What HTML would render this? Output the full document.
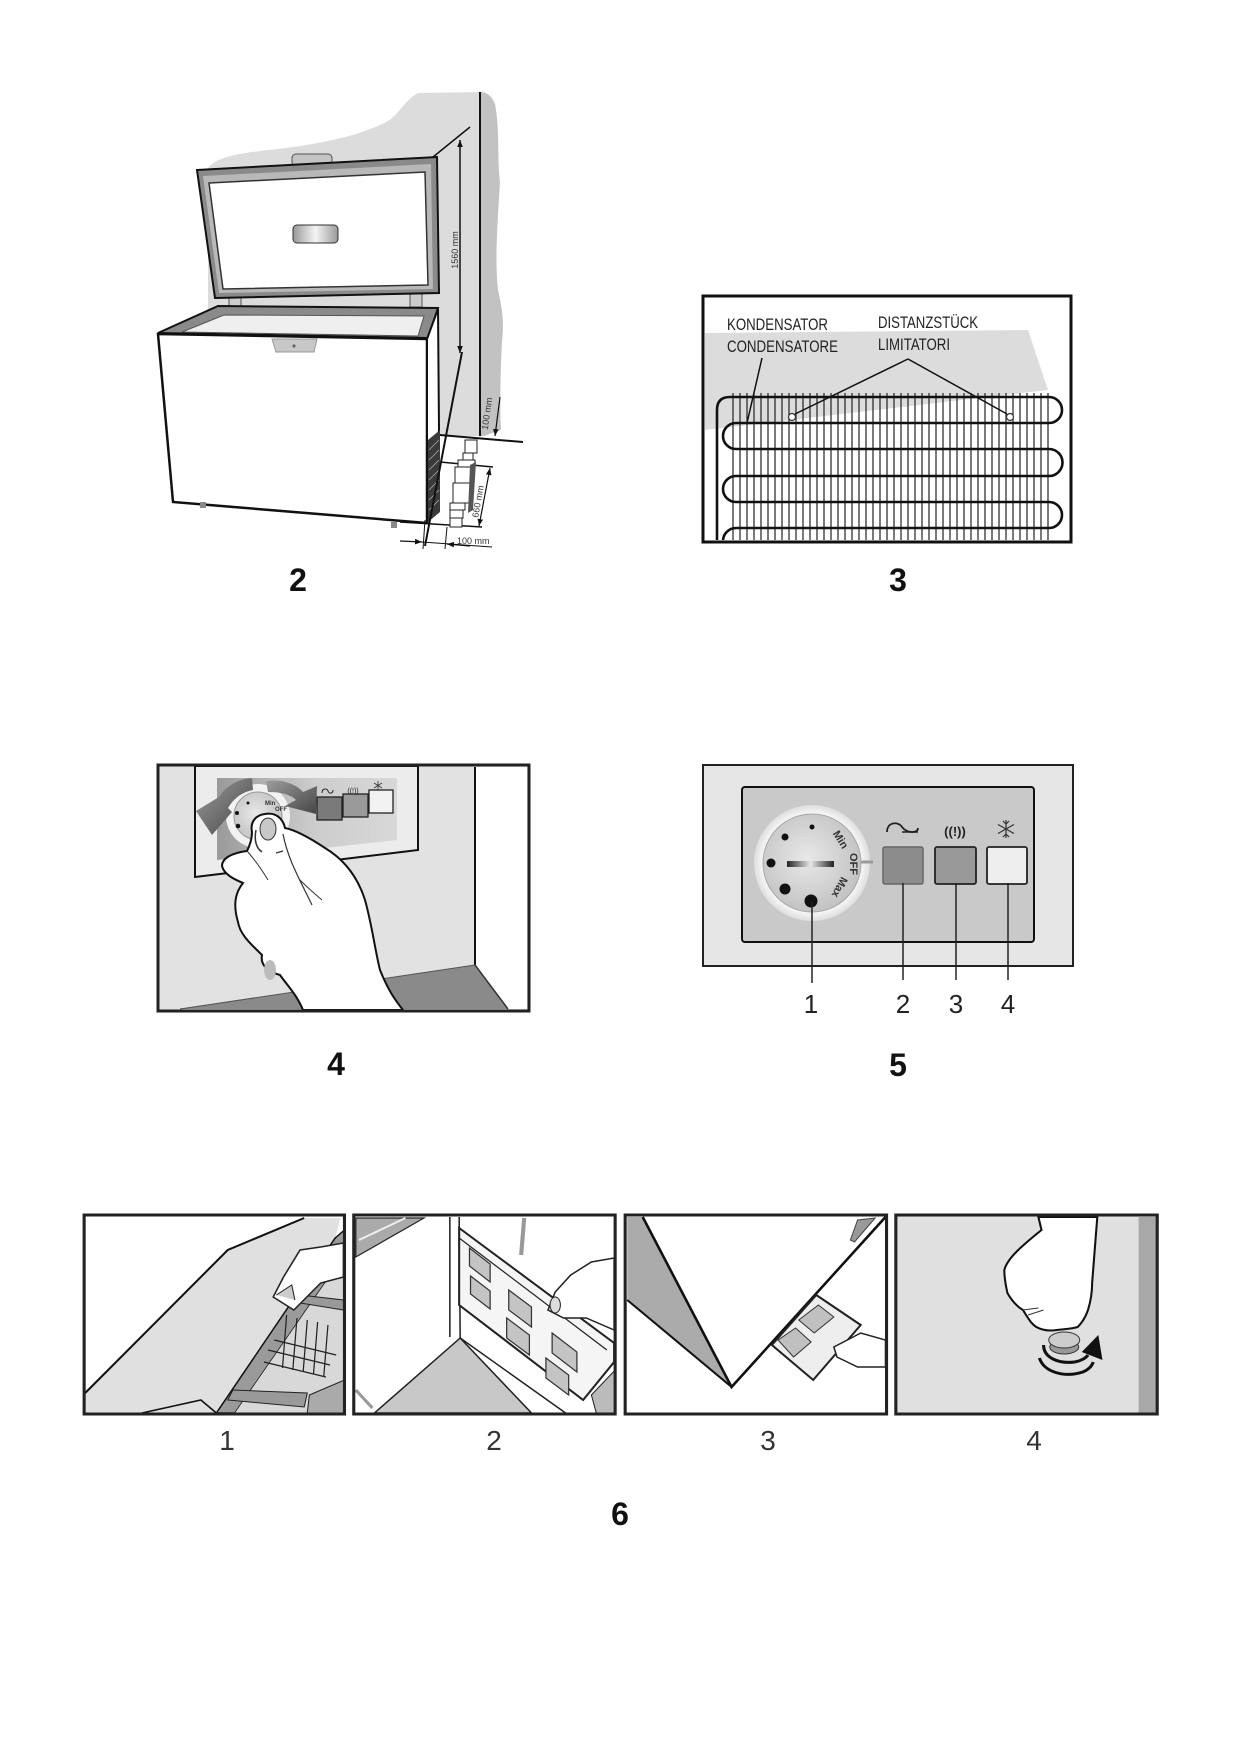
<!DOCTYPE html>
<html><head><meta charset="utf-8">
<style>
html,body{margin:0;padding:0;background:#fff;}
svg{display:block;}
text{font-family:"Liberation Sans",Arial,sans-serif;}
</style></head><body>
<svg width="1240" height="1754" viewBox="0 0 1240 1754" xmlns="http://www.w3.org/2000/svg">
<defs>
 <marker id="ah" viewBox="0 0 10 10" refX="10" refY="5" markerWidth="7" markerHeight="7" orient="auto-start-reverse" markerUnits="userSpaceOnUse"><path d="M0,1 L10,5 L0,9 Z" fill="#111"/></marker>
 <linearGradient id="hgrad" x1="0" x2="1"><stop offset="0" stop-color="#999"/><stop offset="0.5" stop-color="#f4f4f4"/><stop offset="1" stop-color="#999"/></linearGradient>
 <linearGradient id="plate" x1="0" y1="0" x2="1" y2="0"><stop offset="0" stop-color="#9a9a9a"/><stop offset="0.55" stop-color="#cdcdcd"/><stop offset="1" stop-color="#d8d8d8"/></linearGradient>
 <linearGradient id="bar" x1="0" x2="1"><stop offset="0" stop-color="#222"/><stop offset="0.5" stop-color="#e8e8e8"/><stop offset="1" stop-color="#222"/></linearGradient>
 <radialGradient id="disc" cx="0.45" cy="0.45" r="0.65"><stop offset="0" stop-color="#e8e8e8"/><stop offset="1" stop-color="#bdbdbd"/></radialGradient>
 <radialGradient id="ringg" cx="0.5" cy="0.5" r="0.5"><stop offset="0.8" stop-color="#ffffff"/><stop offset="1" stop-color="#dedede"/></radialGradient>
 <linearGradient id="agrad" x1="0" y1="0" x2="1" y2="1"><stop offset="0" stop-color="#9c9c9c"/><stop offset="1" stop-color="#454545"/></linearGradient>
 <clipPath id="c3"><rect x="705" y="298" width="364" height="242"/></clipPath>
</defs>

<!-- ================= FIG 2 ================= -->
<g>
 <path d="M208,330 L208,168 C220,152 262,152 300,146 C340,140 370,131 388,121 C400,113 405,100 418,93 L480,92 L480,436 L437,436 L437,330 Z" fill="#dcdcdc"/>
 <path d="M480,92 C488,92 492,97 495,104 C500,130 497,160 500,182 C497,230 495,262 498,290 C503,312 504,322 502,342 C500,380 500,410 501,430 L484,436 L480,436 Z" fill="#c2c2c2"/>
 <line x1="480" y1="92" x2="480" y2="436" stroke="#111" stroke-width="2"/>
 <rect x="229" y="293" width="12" height="15" fill="#ccc" stroke="#555"/>
 <rect x="410" y="292" width="12" height="15" fill="#ccc" stroke="#555"/>
 <rect x="292" y="154" width="40" height="12" rx="4" fill="#c4c4c4" stroke="#555"/>
 <polygon points="197,170 437,157 439,293 215,298" fill="#8a8a8a" stroke="#111" stroke-width="2"/>
 <polygon points="203,176 431,164 433,289 219,293" fill="#b8b8b8"/>
 <polygon points="209,183 425,172 428,285 223,289" fill="#fff" stroke="#333" stroke-width="1.5"/>
 <rect x="293" y="225" width="45" height="18" rx="4" fill="url(#hgrad)" stroke="#333"/>
 <polygon points="158,333 218,306 438,308 428,338" fill="#8a8a8a" stroke="#111" stroke-width="2"/>
 <polygon points="182,332 224,315 424,316 418,336" fill="#efefef" stroke="#555" stroke-width="1"/>
 <polygon points="158,334 427,339 427,523 173,502" fill="#fff" stroke="#111" stroke-width="2.5"/>
 <polygon points="427,339 438,309 439,430 427,523" fill="#fff" stroke="#111" stroke-width="2"/>
 <polygon points="428,440 440,430 440,512 428,522" fill="#3a3a3a"/>
 <g stroke="#aaa" stroke-width="0.8">
  <line x1="429" y1="450" x2="439" y2="440"/><line x1="429" y1="460" x2="439" y2="450"/><line x1="429" y1="470" x2="439" y2="460"/><line x1="429" y1="480" x2="439" y2="470"/><line x1="429" y1="490" x2="439" y2="480"/><line x1="429" y1="500" x2="439" y2="490"/><line x1="429" y1="510" x2="439" y2="500"/>
 </g>
 <polygon points="272,339 317,339 314,352 276,352" fill="#c8c8c8" stroke="#999"/>
 <circle cx="294" cy="346" r="1.6" fill="#666"/>
 <rect x="200" y="502" width="6" height="6" fill="#888"/>
 <rect x="391" y="522" width="6" height="6" fill="#888"/>
 <line x1="460" y1="140" x2="460" y2="353" stroke="#111" stroke-width="1.5" marker-start="url(#ah)" marker-end="url(#ah)"/>
 <text transform="translate(458,250) rotate(-90)" font-size="9" text-anchor="middle" fill="#333">1560 mm</text>
 <line x1="433" y1="157" x2="470" y2="127" stroke="#111" stroke-width="1.5"/>
 <line x1="462" y1="352" x2="425" y2="546" stroke="#111" stroke-width="2"/>
 <line x1="440" y1="435" x2="523" y2="442" stroke="#111" stroke-width="2"/>
 <line x1="440" y1="462" x2="493" y2="467" stroke="#111" stroke-width="1.5"/>
 <line x1="400" y1="522" x2="482" y2="527" stroke="#111" stroke-width="1.5"/>
 <line x1="500" y1="397" x2="495" y2="436" stroke="#111" stroke-width="1.2" marker-end="url(#ah)"/>
 <text transform="translate(490,414) rotate(-82)" font-size="9" text-anchor="middle" fill="#333">100 mm</text>
 <line x1="490" y1="468" x2="479" y2="526" stroke="#111" stroke-width="1.2" marker-start="url(#ah)" marker-end="url(#ah)"/>
 <text transform="translate(481,502) rotate(-80)" font-size="9" text-anchor="middle" fill="#333">660 mm</text>
 <g fill="#fff" stroke="#222" stroke-width="1">
  <rect x="465" y="440" width="12" height="13"/>
  <rect x="463" y="453" width="10" height="7"/>
  <rect x="458" y="460" width="17" height="7"/>
  <rect x="455" y="467" width="17" height="16"/>
  <rect x="453" y="483" width="17" height="20"/>
  <rect x="450" y="503" width="15" height="7"/>
  <rect x="450" y="510" width="13" height="8"/>
  <rect x="450" y="518" width="12" height="9"/>
 </g>
 <polygon points="470,465 476,462 473,510 468,513" fill="#555"/>
 <line x1="425" y1="520" x2="423" y2="549" stroke="#111" stroke-width="1"/>
 <line x1="447" y1="527" x2="445" y2="549" stroke="#111" stroke-width="1"/>
 <line x1="400" y1="541" x2="422" y2="542" stroke="#111" stroke-width="1.2" marker-end="url(#ah)"/>
 <line x1="470" y1="546" x2="447" y2="544" stroke="#111" stroke-width="1.2" marker-end="url(#ah)"/>
 <line x1="422" y1="542" x2="492" y2="547" stroke="#111" stroke-width="1"/>
 <text x="457" y="544" font-size="9" fill="#333">100 mm</text>
</g>
<text x="298" y="591" font-size="32" font-weight="bold" text-anchor="middle" fill="#111">2</text>

<!-- ================= FIG 3 ================= -->
<g>
 <rect x="703" y="296" width="368" height="246" fill="#fff"/>
 <g clip-path="url(#c3)">
  <polygon points="705,333 1028,330 1048,390 705,430" fill="#dcdcdc"/>
  <path d="M733,393V545M740,393V545M747,393V545M754,393V545M761,393V545M768,393V545M775,393V545M782,393V545M789,393V545M796,393V545M803,393V545M810,393V545M817,393V545M824,393V545M831,393V545M838,393V545M845,393V545M852,393V545M859,393V545M866,393V545M873,393V545M880,393V545M887,393V545M894,393V545M901,393V545M908,393V545M915,393V545M922,393V545M929,393V545M936,393V545M943,393V545M950,393V545M957,393V545M964,393V545M971,393V545M978,393V545M985,393V545M992,393V545M999,393V545M1006,393V545M1013,393V545M1020,393V545M1027,393V545M1034,393V545M1041,393V545M1048,393V545" stroke="#222" stroke-width="1.2" fill="none"/>
  <path d="M717,548 L717,410 Q717,397 730,397 L1049,397 A13,13 0 0 1 1049,423 L736,423 A13,13 0 0 0 736,449 L1049,449 A13.5,13.5 0 0 1 1049,476 L736,476 A13,13 0 0 0 736,502 L1049,502 A13,13 0 0 1 1049,528 L736,528 A13,13 0 0 0 736,554" stroke="#111" stroke-width="2.6" fill="none"/>
 </g>
 <line x1="908" y1="359" x2="795" y2="414" stroke="#111" stroke-width="1.5"/>
 <line x1="908" y1="359" x2="1007" y2="414" stroke="#111" stroke-width="1.5"/>
 <line x1="762" y1="358" x2="747" y2="423" stroke="#111" stroke-width="1.5"/>
 <circle cx="792" cy="417" r="3.5" fill="#fff" stroke="#333" stroke-width="1.2"/>
 <circle cx="1010" cy="417" r="3.5" fill="#fff" stroke="#333" stroke-width="1.2"/>
 <text x="727" y="330" font-size="17" fill="#222" textLength="101" lengthAdjust="spacingAndGlyphs">KONDENSATOR</text>
 <text x="727" y="352" font-size="17" fill="#222" textLength="111" lengthAdjust="spacingAndGlyphs">CONDENSATORE</text>
 <text x="878" y="328" font-size="17" fill="#222" textLength="100" lengthAdjust="spacingAndGlyphs">DISTANZSTÜCK</text>
 <text x="878" y="350" font-size="17" fill="#222" textLength="72" lengthAdjust="spacingAndGlyphs">LIMITATORI</text>
 <rect x="703" y="296" width="368" height="246" fill="none" stroke="#111" stroke-width="3"/>
</g>
<text x="898" y="591" font-size="32" font-weight="bold" text-anchor="middle" fill="#111">3</text>

<!-- ================= FIG 4 ================= -->
<g>
 <rect x="158" y="765" width="371" height="246" fill="#e2e2e2"/>
 <polygon points="475,767 527,767 527,1009 508,1009 475,965" fill="#fff"/>
 <line x1="475" y1="767" x2="475" y2="965" stroke="#111" stroke-width="2"/>
 <polygon points="180,1009 475,965 508,1009" fill="#8a8a8a"/>
 <line x1="180" y1="1009" x2="475" y2="965" stroke="#555" stroke-width="1"/>
 <line x1="475" y1="965" x2="508" y2="1009" stroke="#333" stroke-width="1.5"/>
 <polygon points="195,766 418,766 418,850 195,877" fill="#ececec" stroke="#111" stroke-width="2"/>
 <polygon points="217,778 397,778 397,840 217,860" fill="url(#plate)"/>
 <circle cx="258" cy="816" r="32" fill="#f2f2f2"/>
 <circle cx="258" cy="816" r="24" fill="url(#disc)" stroke="#999"/>
 <circle cx="248" cy="803" r="1.5" fill="#111"/>
 <circle cx="237" cy="813" r="2" fill="#111"/>
 <circle cx="238" cy="826" r="2.3" fill="#111"/>
 <text x="265" y="805" font-size="6" font-weight="bold" fill="#333">Min</text>
 <text x="275" y="811" font-size="6" font-weight="bold" fill="#333">OFF</text>
 <rect x="317" y="797" width="25" height="23" fill="#7a7a7a" stroke="#222" stroke-width="1.3"/>
 <rect x="343" y="794" width="25" height="23" fill="#9a9a9a" stroke="#222" stroke-width="1.3"/>
 <rect x="369" y="790" width="24" height="23" fill="#f2f2f2" stroke="#222" stroke-width="1.3"/>
 <path d="M322,793 C322,788 327,788 328,791 C329,794 333,794 333,790" stroke="#222" stroke-width="1" fill="none"/>
 <text x="353" y="793" font-size="7" text-anchor="middle" fill="#222">((!))</text>
 <g stroke="#333" stroke-width="0.8"><line x1="378" y1="781" x2="378" y2="790"/><line x1="374" y1="783" x2="382" y2="788"/><line x1="382" y1="783" x2="374" y2="788"/></g>
 <path d="M252,778 C238,779 226,786 219,797 L196,811 L212,835 L232,812 L228,808 C234,798 242,792 253,790 Z" fill="url(#agrad)"/>
 <path d="M266,781 C282,779 296,784 303,792 L317,786 L316,814 L285,806 L296,800 C290,794 280,792 268,792 Z" fill="url(#agrad)"/>
 <path d="M303,1010 C297,995 287,985 280,975 C268,972 260,965 262,955 C252,945 240,935 238,922 C233,905 235,893 243,883 C236,880 224,875 222,866 C222,858 232,853 247,851 C250,845 252,838 252,832 C250,823 255,815 265,814 C275,812 283,818 285,828 C295,830 310,838 325,848 C345,860 358,878 365,900 C372,925 375,950 380,970 C388,990 395,1000 403,1010 Z" fill="#fff" stroke="#111" stroke-width="2"/>
 <ellipse cx="268" cy="829" rx="8" ry="11" fill="#c8c8c8" stroke="#333" stroke-width="1"/>
 <path d="M256,830 C254,840 256,848 262,852" stroke="#333" stroke-width="1.5" fill="none"/>
 <path d="M283,834 C288,860 300,880 312,905" stroke="#333" stroke-width="1.2" fill="none"/>
 <path d="M300,880 C305,885 310,890 322,900" stroke="#333" stroke-width="1" fill="none"/>
 <path d="M276,853 L283,851" stroke="#333" stroke-width="1.2"/>
 <ellipse cx="270" cy="970" rx="6" ry="10" fill="#bbb"/>
 <path d="M247,851 C255,860 262,870 268,880" stroke="#333" stroke-width="1" fill="none"/>
 <rect x="158" y="765" width="371" height="246" fill="none" stroke="#222" stroke-width="3"/>
</g>
<text x="336" y="1075" font-size="32" font-weight="bold" text-anchor="middle" fill="#111">4</text>

<!-- ================= FIG 5 ================= -->
<g>
 <rect x="703" y="765" width="370" height="201" fill="#e6e6e6" stroke="#222" stroke-width="2"/>
 <rect x="742" y="787" width="292" height="155" rx="3" fill="#c9c9c9" stroke="#111" stroke-width="2"/>
 <circle cx="812" cy="863" r="58" fill="url(#ringg)"/>
 <circle cx="812" cy="863" r="49" fill="url(#disc)" stroke="#a8a8a8"/>
 <line x1="861" y1="862" x2="873" y2="862" stroke="#999" stroke-width="3"/>
 <circle cx="812" cy="827" r="2.5" fill="#111"/>
 <circle cx="785" cy="837" r="3.5" fill="#111"/>
 <circle cx="771" cy="863" r="4.5" fill="#111"/>
 <circle cx="785" cy="889" r="5.5" fill="#111"/>
 <circle cx="811" cy="901" r="6.5" fill="#111"/>
 <rect x="787" y="861" width="47" height="6" fill="url(#bar)"/>
 <text transform="translate(840,840) rotate(58)" text-anchor="middle" dominant-baseline="middle" font-size="11" font-weight="bold" fill="#333">Min</text>
 <text transform="translate(853,864) rotate(90)" text-anchor="middle" dominant-baseline="middle" font-size="11" font-weight="bold" fill="#333">OFF</text>
 <text transform="translate(839,887) rotate(118)" text-anchor="middle" dominant-baseline="middle" font-size="11" font-weight="bold" fill="#333">Max</text>
 <rect x="883" y="847" width="40" height="37" rx="2" fill="#8c8c8c" stroke="#666" stroke-width="1.5"/>
 <rect x="935" y="847" width="41" height="37" rx="2" fill="#999" stroke="#222" stroke-width="1.8"/>
 <rect x="987" y="847" width="40" height="37" rx="2" fill="#eeeeee" stroke="#222" stroke-width="1.8"/>
 <path d="M887,832 C887,822 898,821 902,827 C906,833 918,834 918,828" stroke="#222" stroke-width="1.8" fill="none"/>
 <line x1="902" y1="832" x2="918" y2="832" stroke="#222" stroke-width="1.5"/>
 <text x="955" y="836" font-size="13" font-weight="bold" text-anchor="middle" fill="#222">((!))</text>
 <g stroke="#333" stroke-width="1.2">
  <line x1="1006" y1="820" x2="1006" y2="838"/>
  <line x1="998" y1="824.5" x2="1014" y2="833.5"/>
  <line x1="1014" y1="824.5" x2="998" y2="833.5"/>
  <path d="M1003,821 L1006,824 L1009,821 M1003,837 L1006,834 L1009,837" fill="none"/>
 </g>
 <g stroke="#222" stroke-width="1.5">
  <line x1="812" y1="902" x2="812" y2="983"/>
  <line x1="903" y1="883" x2="903" y2="980"/>
  <line x1="956" y1="883" x2="956" y2="980"/>
  <line x1="1008" y1="883" x2="1008" y2="980"/>
 </g>
 <g font-size="26" fill="#222" text-anchor="middle">
  <text x="811" y="1013">1</text><text x="903" y="1013">2</text><text x="956" y="1013">3</text><text x="1008" y="1013">4</text>
 </g>
</g>
<text x="898" y="1076" font-size="32" font-weight="bold" text-anchor="middle" fill="#111">5</text>

<!-- ================= FIG 6 ================= -->
<g transform="matrix(1.0331,0,0,1,-2.648,0)">
<!-- panel 1 -->
<g>
 <rect x="84" y="1215" width="252" height="199" fill="#fff"/>
 <polygon points="85,1393 223,1250 297,1218 332,1218 327,1238 212,1413 85,1413" fill="#e0e0e0"/>
 <polyline points="85,1393 223,1250 297,1218" fill="none" stroke="#111" stroke-width="2"/>
 <polyline points="140,1413 197,1400 212,1413" fill="none" stroke="#111" stroke-width="1.5"/>
 <polygon points="327,1238 336,1230 336,1255 230,1413 212,1413" fill="#9a9a9a" stroke="#111" stroke-width="1.5"/>
 <polygon points="336,1255 336,1413 230,1413" fill="#d8d8d8"/>
 <polygon points="293,1295 335,1300 335,1310 293,1303" fill="#999" stroke="#222"/>
 <polygon points="228,1390 300,1393 297,1407 223,1400" fill="#999" stroke="#222"/>
 <polygon points="302,1395 336,1380 336,1413 300,1413" fill="#aaa" stroke="#222"/>
 <g stroke="#222" stroke-width="1.2" fill="none">
  <path d="M268,1340 L328,1355 M262,1350 L322,1365 M258,1362 L318,1377"/>
  <path d="M280,1315 L276,1368 M290,1318 L286,1370 M300,1320 L296,1372 M310,1322 L306,1374 M320,1325 L316,1376"/>
 </g>
 <path d="M267,1297 L277,1277 L293,1250 L313,1247 L335,1243 L335,1277 L313,1283 L287,1310 Z" fill="#fff" stroke="#222" stroke-width="1.5"/>
 <path d="M270,1295 L285,1285 L288,1300" fill="#ccc" stroke="#222"/>
 <rect x="84" y="1215" width="252" height="199" fill="none" stroke="#222" stroke-width="3"/>
</g>
<!-- panel 2 -->
<g>
 <rect x="345" y="1215" width="253" height="199" fill="#fff"/>
 <polygon points="347,1218 413,1218 347,1257" fill="#aaa" stroke="#222" stroke-width="1.2"/>
 <line x1="350" y1="1240" x2="395" y2="1218" stroke="#eee" stroke-width="2"/>
 <polygon points="365,1413 448,1338 517,1413" fill="#c8c8c8" stroke="#222" stroke-width="1.5"/>
 <line x1="438" y1="1217" x2="438" y2="1337" stroke="#222" stroke-width="1.5"/>
 <line x1="447" y1="1217" x2="448" y2="1338" stroke="#222" stroke-width="1.5"/>
 <line x1="448" y1="1338" x2="550" y2="1413" stroke="#222" stroke-width="1.5"/>
 <line x1="510" y1="1218" x2="507" y2="1255" stroke="#999" stroke-width="4"/>
 <line x1="347" y1="1390" x2="363" y2="1408" stroke="#999" stroke-width="3"/>
 <polygon points="447,1228 597,1343 597,1362 567,1400 447,1305" fill="#f5f5f5" stroke="#222" stroke-width="2"/>
 <line x1="447" y1="1238" x2="590" y2="1350" stroke="#222" stroke-width="1.2"/>
 <g fill="#c4c4c4" stroke="#333" stroke-width="1.2">
  <polygon points="457,1248 477,1264 477,1282 457,1266"/>
  <polygon points="458,1276 477,1291 477,1309 458,1294"/>
  <polygon points="495,1290 517,1307 517,1327 495,1310"/>
  <polygon points="493,1318 515,1335 515,1355 493,1338"/>
  <polygon points="537,1333 561,1352 561,1372 537,1353"/>
  <polygon points="531,1358 553,1375 553,1395 531,1378"/>
 </g>
 <polygon points="575,1395 598,1370 598,1414 580,1414" fill="#bbb" stroke="#222"/>
 <path d="M533,1310 L540,1292 L555,1275 L575,1262 L597,1258 L597,1330 L570,1318 L548,1318 Z" fill="#fff" stroke="#222" stroke-width="1.5"/>
 <ellipse cx="540" cy="1305" rx="5" ry="8" fill="#ddd" stroke="#222"/>
 <rect x="345" y="1215" width="253" height="199" fill="none" stroke="#222" stroke-width="3"/>
</g>
</g>
<g transform="matrix(1.0331,0,0,1,-20.52,0)">
<!-- panel 3 -->
<g>
 <rect x="625" y="1215" width="253" height="199" fill="#fff"/>
 <polygon points="627,1217 642,1217 728,1387 627,1300" fill="#ababab"/>
 <polyline points="642,1217 728,1387 877,1217" fill="none" stroke="#111" stroke-width="2.5"/>
 <line x1="627" y1="1300" x2="728" y2="1387" stroke="#111" stroke-width="2"/>
 <polygon points="843,1240 850,1220 867,1218 847,1242" fill="#999" stroke="#444"/>
 <polygon points="767,1345 810,1295 853,1325 807,1380" fill="#eee" stroke="#222" stroke-width="2"/>
 <polygon points="793,1320 812,1305 827,1317 808,1333" fill="#c0c0c0" stroke="#333"/>
 <polygon points="773,1340 790,1328 805,1342 788,1357" fill="#c0c0c0" stroke="#333"/>
 <path d="M827,1347 L853,1333 L877,1340 L877,1367 L850,1367 L830,1357 Z" fill="#fff" stroke="#222" stroke-width="1.5"/>
 <rect x="625" y="1215" width="253" height="199" fill="none" stroke="#222" stroke-width="3"/>
</g>
<!-- panel 4 -->
<g>
 <rect x="887" y="1215" width="253" height="199" fill="#e0e0e0"/>
 <rect x="1122" y="1217" width="17" height="196" fill="#a8a8a8"/>
 <ellipse cx="1050" cy="1347" rx="14" ry="7" fill="#999" stroke="#333"/>
 <ellipse cx="1050" cy="1340" rx="15" ry="8" fill="#ccc" stroke="#333"/>
 <path d="M1025,1217 L1028,1230 C1010,1245 995,1258 992,1270 C992,1280 994,1288 995,1293 C1000,1302 1005,1307 1010,1310 C1015,1318 1018,1324 1023,1327 C1030,1331 1037,1331 1043,1330 C1050,1329 1057,1329 1063,1327 C1068,1322 1071,1316 1073,1310 C1076,1300 1077,1292 1077,1283 L1082,1217 Z" fill="#fff" stroke="#111" stroke-width="2"/>
 <path d="M1010,1310 L1025,1308 M1015,1315 L1030,1310" stroke="#333" stroke-width="1"/>
 <path d="M1030,1345 C1030,1358 1045,1364 1060,1362 C1066,1361 1071,1358 1073,1355" stroke="#111" stroke-width="3" fill="none"/>
 <path d="M1026,1358 C1030,1372 1050,1378 1068,1372 C1073,1370 1077,1366 1078,1362" stroke="#111" stroke-width="3" fill="none"/>
 <polygon points="1067,1352 1083,1335 1087,1360" fill="#111"/>
 <rect x="887" y="1215" width="253" height="199" fill="none" stroke="#222" stroke-width="3"/>
</g>
</g>
<g font-size="28" fill="#333" text-anchor="middle">
 <text x="227" y="1450">1</text><text x="494" y="1450">2</text><text x="768" y="1450">3</text><text x="1034" y="1450">4</text>
</g>
<text x="620" y="1525" font-size="32" font-weight="bold" text-anchor="middle" fill="#111">6</text>
</svg>
</body></html>
